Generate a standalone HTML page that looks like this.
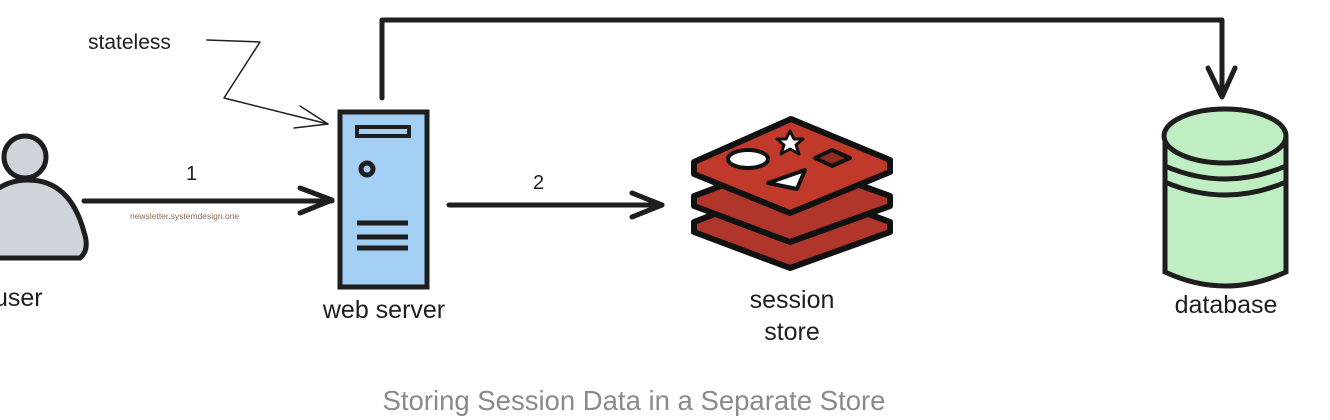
<!DOCTYPE html>
<html><head><meta charset="utf-8"><style>
body{margin:0;background:#fff;width:1330px;height:420px;overflow:hidden}
svg{display:block}
.h{font-family:"Comic Sans MS","Liberation Sans",sans-serif;fill:#1e1e1e}
</style></head><body>
<svg width="1330" height="420" viewBox="0 0 1330 420" xmlns="http://www.w3.org/2000/svg">
<g fill="none" stroke="#1e1e1e" stroke-linecap="round" stroke-linejoin="round">
<polyline points="382,98 382,20 1222,20 1222,95" stroke-width="5"/>
<polyline points="1208,68 1222,97 1235,68" stroke-width="5"/>
<polyline points="207,40 260,42 224,98 328,124" stroke-width="1.5"/>
<polyline points="300,106 328,124 294,128" stroke-width="1.5"/>
<line x1="84" y1="201" x2="332" y2="201" stroke-width="5"/>
<polyline points="300,188 332,200 300,213" stroke-width="5"/>
<line x1="449" y1="205" x2="662" y2="205" stroke-width="5"/>
<polyline points="632,193 662,205 632,217" stroke-width="5"/>
</g>
<g stroke="#1e1e1e" stroke-width="5" fill="#ced4da">
<path d="M-20,258 L80,258 Q90,250 84,232 Q70,180 28,180 Q-14,180 -30,232 Z"/>
<circle cx="25" cy="157" r="21"/>
</g>
<g stroke="#1e1e1e" stroke-width="5">
<rect x="340" y="112" width="87" height="175" fill="#a5d0f5"/>
<rect x="357" y="127" width="52" height="9" fill="#a5d0f5" stroke-width="4"/>
<circle cx="367" cy="169" r="6" fill="#a5d0f5"/>
<line x1="357" y1="223" x2="408" y2="223"/>
<line x1="357" y1="237" x2="408" y2="237"/>
<line x1="357" y1="248" x2="408" y2="248"/>
</g>
<g stroke="#111" stroke-width="6" stroke-linejoin="round">
<path d="M694,222 L790,185 L890,222 L890,232 L790,268 L694,232 Z" fill="#b0352b"/>
<path d="M694,196 L790,160 L890,196 L890,206 L790,242 L694,206 Z" fill="#b0352b"/>
<path d="M694,162 L791,119 L890,160 L890,172 L790,213 L694,174 Z" fill="#c0392b"/>
<ellipse cx="748" cy="159" rx="20" ry="9" fill="#fff" stroke-width="4"/>
<path d="M768,183 L805,170 L797,189 Z" fill="#fff" stroke-width="4"/>
<path d="M815,158 L832,150 L850,158 L832,166 Z" fill="#8e2a20" stroke-width="4"/>
<path d="M790,131 l4,8 9,0 -7,6 3,9 -9,-5 -9,5 3,-9 -7,-6 9,0 Z" fill="#fff" stroke-width="3"/>
</g>
<g stroke="#1e1e1e" stroke-width="5" fill="#bfeec3">
<path d="M1165,138 L1165,272 Q1225,300 1286,272 L1286,138 Z"/>
<ellipse cx="1225" cy="136" rx="61" ry="27"/>
<path d="M1165,166 Q1225,192 1286,166" fill="none"/>
<path d="M1165,182 Q1225,208 1286,182" fill="none"/>
</g>
<text class="h" x="88" y="49" font-size="21">stateless</text>
<text class="h" x="186" y="180" font-size="20">1</text>
<text class="h" x="533" y="189" font-size="20">2</text>
<text x="130" y="219" font-size="8.5" fill="#8a6a50" font-family="Liberation Sans,sans-serif">newsletter.systemdesign.one</text>
<text class="h" x="-6" y="306" font-size="25">user</text>
<text class="h" x="384" y="318" font-size="25" text-anchor="middle">web server</text>
<text class="h" x="792" y="308" font-size="25" text-anchor="middle">session</text>
<text class="h" x="792" y="340" font-size="25" text-anchor="middle">store</text>
<text class="h" x="1226" y="313" font-size="25" text-anchor="middle">database</text>
<text x="634" y="410" font-size="27.5" fill="#8a8a8a" text-anchor="middle" font-family="Liberation Sans,sans-serif">Storing Session Data in a Separate Store</text>
</svg>
</body></html>
